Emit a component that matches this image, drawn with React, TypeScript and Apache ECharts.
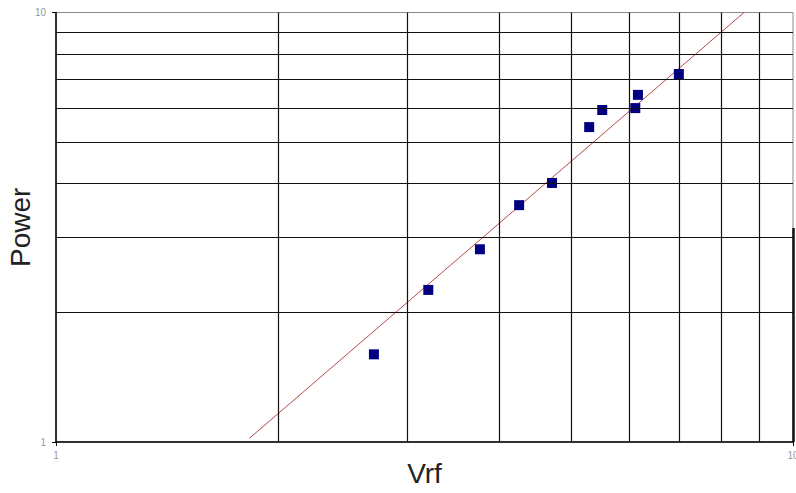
import React, { useEffect, useRef } from "react";
import * as echarts from "echarts";

const vrf = [2.70, 3.20, 3.76, 4.25, 4.71, 5.29, 5.51, 6.11, 6.16, 7.00];
const power = [1.60, 2.26, 2.81, 3.56, 4.01, 5.41, 5.93, 5.99, 6.43, 7.19];
const trendX = [1.83, 8.58];
const trendY = [1.02, 10];
const gridValues = [2, 3, 4, 5, 6, 7, 8, 9];
const axisMin = 1;
const axisMax = 10;

export default function App() {
  const ref = useRef<HTMLDivElement>(null);
  useEffect(() => {
    if (!ref.current) return;
    const chart = echarts.init(ref.current, undefined, { renderer: "svg" });
    const gridLines: any[] = [];
    gridValues.forEach((v) => gridLines.push({ xAxis: v }));
    gridValues.forEach((v) => gridLines.push({ yAxis: v }));
    chart.setOption({
      animation: false,
      backgroundColor: "#ffffff",
      grid: {
        left: 56,
        top: 12.5,
        right: 3,
        bottom: 51,
        containLabel: false,
        outerBoundsMode: "none",
        show: true,
        borderColor: "#8a8a8a",
        borderWidth: 1,
      },
      xAxis: {
        type: "log",
        logBase: 10,
        min: axisMin,
        max: axisMax,
        name: "Vrf",
        nameLocation: "middle",
        nameGap: 17,
        nameMoveOverlap: false,
        nameTextStyle: { fontSize: 28, color: "#222", fontFamily: "Liberation Sans" },
        axisLine: { show: true, lineStyle: { color: "#000", width: 1.5 } },
        axisTick: { show: true, length: 4, lineStyle: { color: "#000" } },
        axisLabel: { fontSize: 10, color: "#999", margin: 8, fontFamily: "Liberation Sans" },
        splitLine: { show: false },
      },
      yAxis: {
        type: "log",
        logBase: 10,
        min: axisMin,
        max: axisMax,
        name: "Power",
        nameLocation: "middle",
        nameGap: 22,
        nameMoveOverlap: false,
        nameTextStyle: { fontSize: 28, color: "#222", fontFamily: "Liberation Sans" },
        axisLine: { show: true, lineStyle: { color: "#000", width: 1.5 } },
        axisTick: { show: true, length: 4, lineStyle: { color: "#000" } },
        axisLabel: { fontSize: 10, color: "#999", margin: 10, fontFamily: "Liberation Sans" },
        splitLine: { show: false },
      },
      series: [
        {
          type: "line",
          data: [],
          silent: true,
          markLine: {
            silent: true,
            symbol: "none",
            label: { show: false },
            lineStyle: { color: "#111", width: 1.2, type: "solid" },
            data: gridLines,
          },
        },
        {
          type: "line",
          data: [],
          silent: true,
          markLine: {
            silent: true,
            symbol: "none",
            label: { show: false },
            lineStyle: { color: "#111", width: 2.5, type: "solid" },
            data: [[{ coord: [axisMax, 3.15] }, { coord: [axisMax, axisMin] }]],
          },
        },
        {
          type: "line",
          data: trendX.map((x, i) => [x, trendY[i]]),
          showSymbol: false,
          symbol: "none",
          lineStyle: { color: "#b84a4a", width: 1 },
          z: 3,
        },
        {
          type: "scatter",
          data: vrf.map((x, i) => [x, power[i]]),
          symbol: "rect",
          symbolSize: 10,
          itemStyle: { color: "#000080", opacity: 1 },
          z: 4,
        },
      ],
    });
    return () => chart.dispose();
  }, []);
  return (
    <div
      ref={ref}
      style={{ position: "fixed", left: 0, top: 0, width: 796, height: 493 }}
    />
  );
}
